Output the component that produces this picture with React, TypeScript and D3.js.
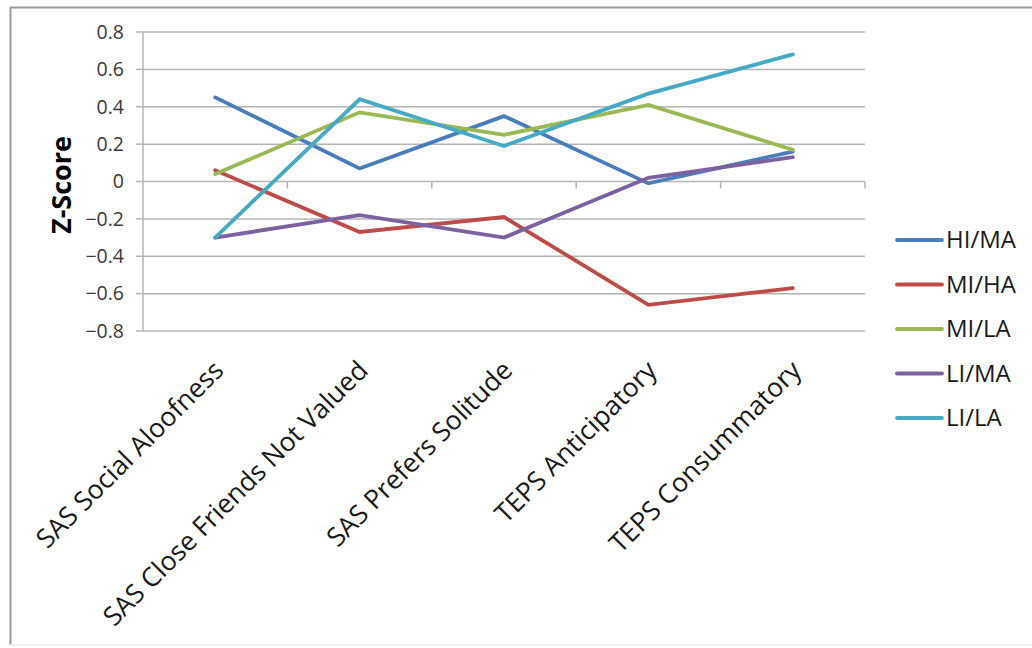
import React from "react";
import * as d3 from "d3";

const categories = [
  "SAS Social Aloofness",
  "SAS Close Friends Not Valued",
  "SAS Prefers Solitude",
  "TEPS Anticipatory",
  "TEPS Consummatory",
];
const seriesNames = ["HI/MA", "MI/HA", "MI/LA", "LI/MA", "LI/LA"];
const hiMA = [0.45, 0.07, 0.35, -0.01, 0.16];
const miHA = [0.06, -0.27, -0.19, -0.66, -0.57];
const miLA = [0.04, 0.37, 0.25, 0.41, 0.17];
const liMA = [-0.3, -0.18, -0.3, 0.02, 0.13];
const liLA = [-0.3, 0.44, 0.19, 0.47, 0.68];
const yTicks = [0.8, 0.6, 0.4, 0.2, 0, -0.2, -0.4, -0.6, -0.8];
const colors = ["#4A7EBB", "#BE4B48", "#98B954", "#7D60A0", "#46AAC5"];

const W = 1032;
const H = 648;

export default function App() {
  const series = [hiMA, miHA, miLA, liMA, liLA];
  const x = d3.scaleBand<string>().domain(categories).range([143, 865]);
  const y = d3.scaleLinear().domain([-0.8, 0.8]).range([331, 32]);
  const cx = (c: string) => (x(c) ?? 0) + x.bandwidth() / 2;
  const line = d3
    .line<number>()
    .x((_, i) => cx(categories[i]))
    .y((d) => y(d));
  const font = "'Open Sans', sans-serif";
  const boundaries = categories.map((c) => (x(c) ?? 0) + x.bandwidth());

  return (
    <svg
      width={W}
      height={H}
      style={{ position: "absolute", left: 0, top: 0, display: "block", background: "#fff" }}
    >
      {/* outer frame */}
      <line x1={10} y1={7.5} x2={W} y2={7.5} stroke="#9a9a9a" strokeWidth={2} />
      <line x1={10.5} y1={7} x2={10.5} y2={645} stroke="#9a9a9a" strokeWidth={2} />
      <line x1={10} y1={645} x2={W} y2={645} stroke="#ececec" strokeWidth={1.5} />

      {/* gridlines */}
      {yTicks.map((t) => (
        <line
          key={"g" + t}
          x1={143}
          x2={865}
          y1={y(t)}
          y2={y(t)}
          stroke="#b4b4b4"
          strokeWidth={1.5}
        />
      ))}
      {/* y axis */}
      <line x1={143} x2={143} y1={y(0.8)} y2={y(-0.8)} stroke="#b4b4b4" strokeWidth={1.5} />
      {yTicks.map((t) => (
        <line key={"t" + t} x1={136} x2={143} y1={y(t)} y2={y(t)} stroke="#b4b4b4" strokeWidth={1.5} />
      ))}
      {/* category ticks on zero line */}
      {boundaries.map((b, i) => (
        <line key={"b" + i} x1={b} x2={b} y1={y(0)} y2={y(0) + 7} stroke="#b4b4b4" strokeWidth={1.5} />
      ))}
      {/* y tick labels */}
      {yTicks.map((t) => (
        <text
          key={"l" + t}
          x={124}
          y={y(t)}
          dy="0.35em"
          textAnchor="end"
          fontFamily={font}
          fontSize={19.5}
          fill="#3a3a3a"
        >
          {t === 0 ? "0" : d3.format(".1f")(t)}
        </text>
      ))}
      {/* y title */}
      <text
        transform={`translate(71,185) rotate(-90)`}
        textAnchor="middle"
        fontFamily={font}
        fontWeight="bold"
        fontSize={27}
        fill="#000"
      >
        Z-Score
      </text>

      {/* lines */}
      {series.map((s, i) => (
        <path
          key={seriesNames[i]}
          d={line(s) ?? ""}
          fill="none"
          stroke={colors[i]}
          strokeWidth={3.8}
          strokeLinejoin="miter"
          strokeLinecap="round"
        />
      ))}

      {/* x labels */}
      {categories.map((c) => (
        <text
          key={c}
          transform={`translate(${cx(c) + 10},372) rotate(-45)`}
          textAnchor="end"
          fontFamily={font}
          fontSize={26.5}
          fill="#1a1a1a"
        >
          {c}
        </text>
      ))}

      {/* legend */}
      {seriesNames.map((n, i) => {
        const ly = 240 + i * 44.5;
        return (
          <g key={n}>
            <line x1={897} x2={942} y1={ly} y2={ly} stroke={colors[i]} strokeWidth={3.8} strokeLinecap="round" />
            <text x={946} y={ly} dy="0.35em" fontFamily={font} fontSize={24} fill="#1a1a1a">
              {n}
            </text>
          </g>
        );
      })}
    </svg>
  );
}
